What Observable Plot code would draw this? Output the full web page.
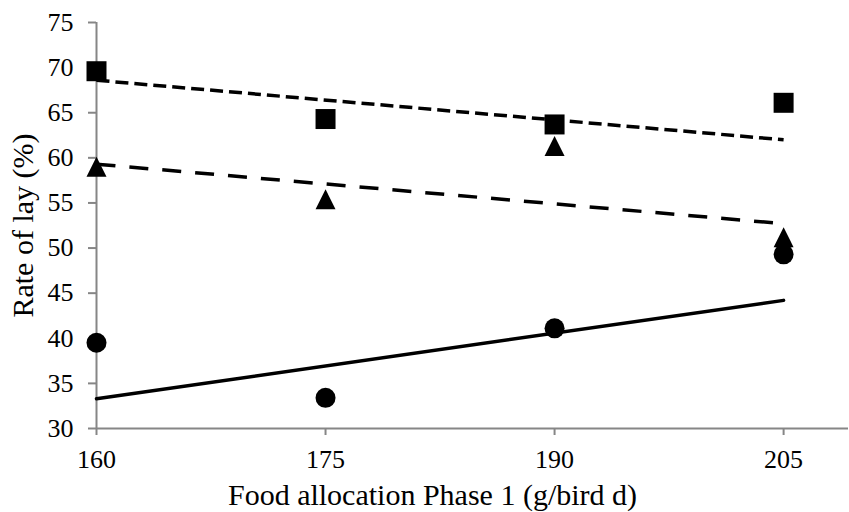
<!DOCTYPE html>
<html>
<head>
<meta charset="utf-8">
<script src="https://cdn.jsdelivr.net/npm/d3@7"></script>
<script src="https://cdn.jsdelivr.net/npm/@observablehq/plot@0.6"></script>
<style>
  html, body { margin: 0; padding: 0; background: #fff; }
  #chart svg { display: block; }
</style>
</head>
<body>
<div id="chart"></div>
<script>
// Data
const allocation = [160, 175, 190, 205];
const squareValues = [69.6, 64.3, 63.7, 66.1];
const triangleValues = [59.0, 55.4, 61.3, 51.2];
const circleValues = [39.5, 33.4, 41.1, 49.3];

// Trend-line endpoints (as drawn in the reference)
const trendX = [160, 205];
const squareTrend = [68.6, 62.0];
const triangleTrend = [59.3, 52.7];
const circleTrend = [33.3, 44.2];

const yTicks = [30, 35, 40, 45, 50, 55, 60, 65, 70, 75];
const xTicks = [160, 175, 190, 205];
const xTitle = ["Food allocation Phase 1 (g/bird d)"];
const yTitle = "Rate of lay (%)";

const toRows = (xs, ys) => xs.map((x, i) => ({x, y: ys[i]}));

const triangleSymbol = {
  draw(ctx, size) {
    const s = Math.sqrt(size);
    ctx.moveTo(0, -s / 2);
    ctx.lineTo(s / 2, s / 2);
    ctx.lineTo(-s / 2, s / 2);
    ctx.closePath();
  }
};

const axisColor = "#868686";
const font = "'Liberation Serif', 'Times New Roman', serif";

const chart = Plot.plot({
  width: 849,
  height: 512,
  marginLeft: 96,
  marginRight: 1,
  marginTop: 22,
  marginBottom: 84,
  style: {fontFamily: font, fontSize: "26px", color: "#000", background: "#fff"},
  x: {domain: [160, 209.25]},
  y: {domain: [30, 75]},
  marks: [
    Plot.ruleY([30], {stroke: axisColor, strokeWidth: 2}),
    Plot.ruleX([160], {stroke: axisColor, strokeWidth: 2}),
    Plot.axisY({ticks: yTicks, tickSize: 8, tickPadding: 15, stroke: axisColor, strokeWidth: 2,
      fill: "#000", label: null, fontSize: 26}),
    Plot.axisX({ticks: xTicks, tickSize: 7, tickPadding: 14, stroke: axisColor, strokeWidth: 2,
      fill: "#000", label: null, fontSize: 26}),
    Plot.axisY({ticks: [], label: yTitle, labelAnchor: "center", labelArrow: "none",
      labelOffset: 85, fill: "#000", fontSize: 30}),
    Plot.text(xTitle, {text: d => d, frameAnchor: "bottom", dx: -40, dy: 67, lineAnchor: "middle",
      fill: "#000", fontSize: 30}),
    Plot.line(toRows(trendX, squareTrend), {x: "x", y: "y", stroke: "#000", strokeWidth: 3.5,
      strokeDasharray: "13,6", strokeLinecap: "butt"}),
    Plot.line(toRows(trendX, triangleTrend), {x: "x", y: "y", stroke: "#000", strokeWidth: 3.5,
      strokeDasharray: "19,14", strokeLinecap: "butt"}),
    Plot.line(toRows(trendX, circleTrend), {x: "x", y: "y", stroke: "#000", strokeWidth: 3.5}),
    Plot.dot(toRows(allocation, squareValues), {x: "x", y: "y", symbol: "square", r: 11.28, fill: "#000", stroke: "none"}),
    Plot.dot(toRows(allocation, triangleValues), {x: "x", y: "y", symbol: triangleSymbol, r: 11.28, fill: "#000", stroke: "none"}),
    Plot.dot(toRows(allocation, circleValues), {x: "x", y: "y", symbol: "circle", r: 10, fill: "#000", stroke: "none"})
  ]
});

document.getElementById("chart").append(chart);
</script>
</body>
</html>
